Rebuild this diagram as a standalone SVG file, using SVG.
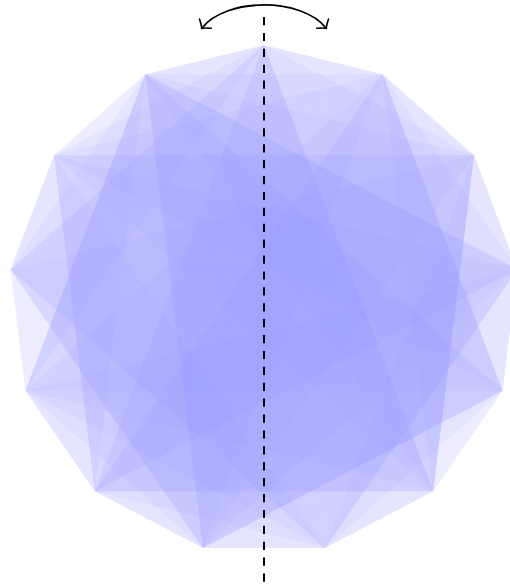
<svg xmlns="http://www.w3.org/2000/svg" width="510" height="587" viewBox="0 0 510 587">
<style>
.t{fill:#9696ff;fill-opacity:0.085;stroke:none}
.axis{stroke:#000;stroke-width:2;stroke-dasharray:8.2,7.7;fill:none}
.arc{stroke:#000;stroke-width:1.8;fill:none}
</style>
<defs>
<marker id="arr" viewBox="-8 -10 10 20" markerWidth="10" markerHeight="20" refX="0" refY="0" orient="auto-start-reverse" markerUnits="userSpaceOnUse">
<path d="M-5.5,-7.5 Q-1.5,-1.5 0.6,0 Q-1.5,1.5 -5.5,7.5" fill="none" stroke="#000" stroke-width="1.6" stroke-linecap="round" stroke-linejoin="round"/>
</marker>
</defs>
<rect width="510" height="587" fill="#fff"/>
<g id="layers">
<polygon class="t" points="264,45 145.4,74.2 25.4,390.7"/>
<polygon class="t" points="264,45 145.4,74.2 433.2,491.2"/>
<polygon class="t" points="145.4,74.2 54,155.2 94.8,491.2"/>
<polygon class="t" points="145.4,74.2 54,155.2 517.3,269.4"/>
<polygon class="t" points="54,155.2 10.7,269.4 325.1,548"/>
<polygon class="t" points="54,155.2 10.7,269.4 474,155.2"/>
<polygon class="t" points="10.7,269.4 25.4,390.7 264,45"/>
<polygon class="t" points="10.7,269.4 25.4,390.7 433.2,491.2"/>
<polygon class="t" points="25.4,390.7 94.8,491.2 502.6,390.7"/>
<polygon class="t" points="25.4,390.7 94.8,491.2 145.4,74.2"/>
<polygon class="t" points="94.8,491.2 202.9,548 382.6,74.2"/>
<polygon class="t" points="94.8,491.2 202.9,548 54,155.2"/>
<polygon class="t" points="202.9,548 325.1,548 517.3,269.4"/>
<polygon class="t" points="202.9,548 325.1,548 145.4,74.2"/>
<polygon class="t" points="202.9,548 325.1,548 10.7,269.4"/>
<polygon class="t" points="325.1,548 433.2,491.2 264,45"/>
<polygon class="t" points="325.1,548 433.2,491.2 25.4,390.7"/>
<polygon class="t" points="433.2,491.2 502.6,390.7 382.6,74.2"/>
<polygon class="t" points="433.2,491.2 502.6,390.7 94.8,491.2"/>
<polygon class="t" points="502.6,390.7 517.3,269.4 54,155.2"/>
<polygon class="t" points="502.6,390.7 517.3,269.4 202.9,548"/>
<polygon class="t" points="517.3,269.4 474,155.2 10.7,269.4"/>
<polygon class="t" points="517.3,269.4 474,155.2 325.1,548"/>
<polygon class="t" points="474,155.2 382.6,74.2 94.8,491.2"/>
<polygon class="t" points="474,155.2 382.6,74.2 433.2,491.2"/>
<polygon class="t" points="382.6,74.2 264,45 202.9,548"/>
<polygon class="t" points="382.6,74.2 264,45 10.7,269.4"/>
<polygon class="t" points="382.6,74.2 264,45 502.6,390.7"/>
<polygon class="t" points="264,45 10.7,269.4 325.1,548"/>
<polygon class="t" points="264,45 94.8,491.2 502.6,390.7"/>
<polygon class="t" points="145.4,74.2 25.4,390.7 502.6,390.7"/>
<polygon class="t" points="145.4,74.2 202.9,548 474,155.2"/>
<polygon class="t" points="54,155.2 94.8,491.2 433.2,491.2"/>
<polygon class="t" points="54,155.2 202.9,548 517.3,269.4"/>
<polygon class="t" points="54,155.2 433.2,491.2 382.6,74.2"/>
<polygon class="t" points="10.7,269.4 202.9,548 502.6,390.7"/>
<polygon class="t" points="10.7,269.4 433.2,491.2 474,155.2"/>
<polygon class="t" points="25.4,390.7 325.1,548 474,155.2"/>
<polygon class="t" points="25.4,390.7 502.6,390.7 382.6,74.2"/>
<polygon class="t" points="94.8,491.2 433.2,491.2 474,155.2"/>
<polygon class="t" points="264,45 25.4,390.7 433.2,491.2"/>
<polygon class="t" points="145.4,74.2 94.8,491.2 517.3,269.4"/>
<polygon class="t" points="10.7,269.4 325.1,548 517.3,269.4"/>
<polygon class="t" points="202.9,548 502.6,390.7 382.6,74.2"/>
<polygon class="t" points="264,45 54,155.2 202.9,548"/>
<polygon class="t" points="25.4,390.7 202.9,548 517.3,269.4"/>
<polygon class="t" points="325.1,548 502.6,390.7 145.4,74.2"/>
<polygon class="t" points="94.8,491.2 517.3,269.4 264,45"/>
<polygon class="t" points="433.2,491.2 474,155.2 54,155.2"/>
<polygon class="t" points="474,155.2 145.4,74.2 25.4,390.7"/>
<polygon class="t" points="502.6,390.7 382.6,74.2 10.7,269.4"/>
<polygon class="t" points="517.3,269.4 145.4,74.2 202.9,548"/>
<polygon class="t" points="264,45 145.4,74.2 10.7,269.4"/>
<polygon class="t" points="54,155.2 10.7,269.4 202.9,548"/>
<polygon class="t" points="25.4,390.7 94.8,491.2 325.1,548"/>
<polygon class="t" points="325.1,548 433.2,491.2 474,155.2"/>
<polygon class="t" points="502.6,390.7 517.3,269.4 382.6,74.2"/>
<polygon class="t" points="474,155.2 382.6,74.2 145.4,74.2"/>
<polygon class="t" points="94.8,491.2 202.9,548 502.6,390.7"/>
<polygon class="t" points="517.3,269.4 474,155.2 264,45"/>
</g>
<g id="axis">
<line class="axis" x1="264" y1="17" x2="264" y2="587"/>
</g>
<g id="connectors">
<path class="arc" d="M202,28 C226,-2.7 302,-2.7 326,28" marker-start="url(#arr)" marker-end="url(#arr)"/>
</g>
</svg>
